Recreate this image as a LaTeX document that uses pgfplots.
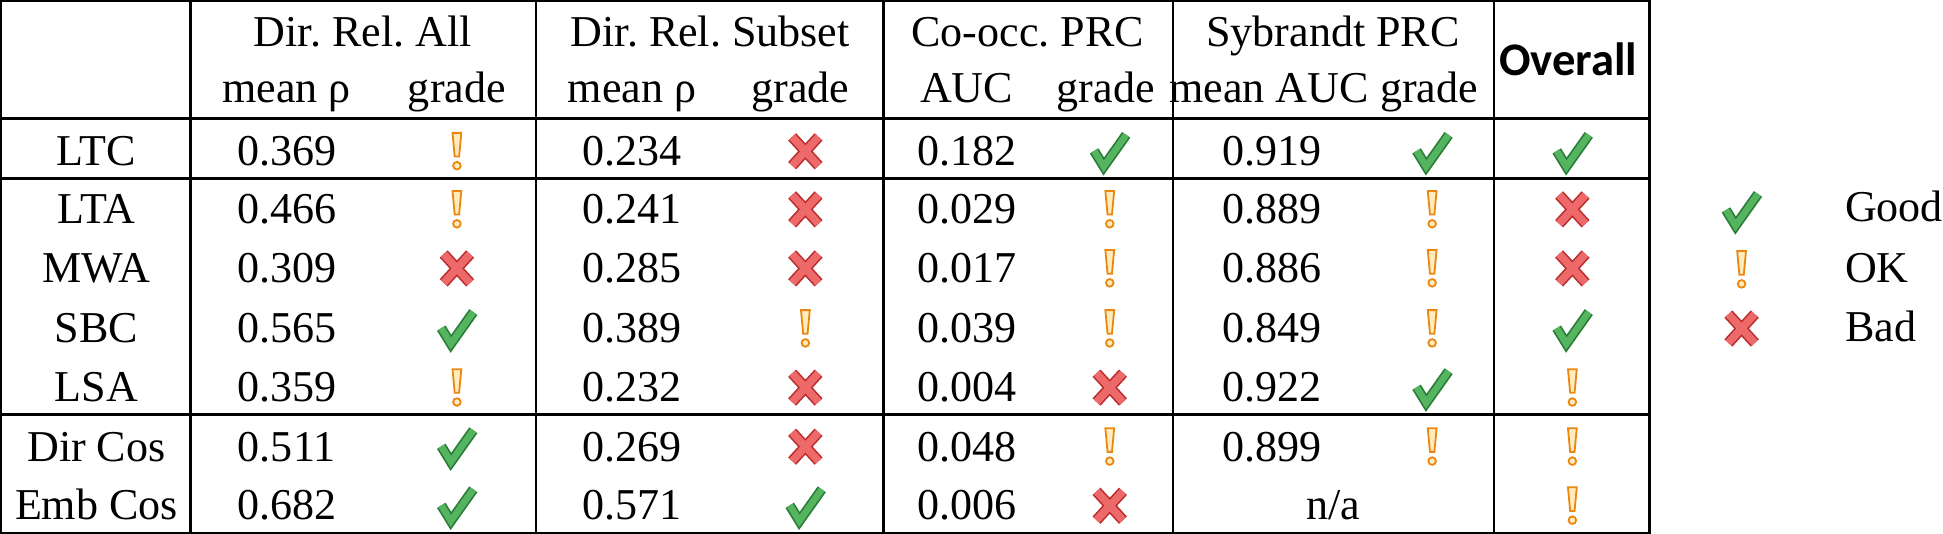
\documentclass[border=0pt]{standalone}
\usepackage{pgfplots}
\usepackage{pgfplotstable}
\pgfplotsset{compat=1.18}
\usepackage{fontspec}
\setmainfont{Liberation Serif}
\newfontfamily\calib{Carlito}
\frenchspacing

\definecolor{ckdark}{RGB}{40,125,55}
\definecolor{cklight}{RGB}{85,180,95}
\definecolor{xdark}{RGB}{185,45,45}
\definecolor{xlight}{RGB}{238,105,105}
\definecolor{exdark}{RGB}{235,135,15}
\definecolor{exlight}{RGB}{255,236,190}

\pgfdeclareplotmark{gcheck}{%
  \pgfsetmiterjoin
  \pgfpathmoveto{\pgfqpoint{-7.8pt}{0.2pt}}%
  \pgfpathlineto{\pgfqpoint{-3.0pt}{-7.6pt}}%
  \pgfpathlineto{\pgfqpoint{8.2pt}{8.2pt}}%
  \pgfsetlinewidth{5.0pt}\pgfsetstrokecolor{ckdark}\pgfusepathqstroke
  \pgfpathmoveto{\pgfqpoint{-7.8pt}{0.2pt}}%
  \pgfpathlineto{\pgfqpoint{-3.0pt}{-7.6pt}}%
  \pgfpathlineto{\pgfqpoint{8.2pt}{8.2pt}}%
  \pgfsetlinewidth{3.3pt}\pgfsetstrokecolor{cklight}\pgfusepathqstroke
}
\pgfdeclareplotmark{rcross}{%
  \pgfpathmoveto{\pgfqpoint{-6.6pt}{-7.2pt}}\pgfpathlineto{\pgfqpoint{6.6pt}{7.2pt}}%
  \pgfpathmoveto{\pgfqpoint{-6.6pt}{7.2pt}}\pgfpathlineto{\pgfqpoint{6.6pt}{-7.2pt}}%
  \pgfsetlinewidth{5.4pt}\pgfsetstrokecolor{xdark}\pgfusepathqstroke
  \pgfpathmoveto{\pgfqpoint{-6.6pt}{-7.2pt}}\pgfpathlineto{\pgfqpoint{6.6pt}{7.2pt}}%
  \pgfpathmoveto{\pgfqpoint{-6.6pt}{7.2pt}}\pgfpathlineto{\pgfqpoint{6.6pt}{-7.2pt}}%
  \pgfsetlinewidth{3.8pt}\pgfsetstrokecolor{xlight}\pgfusepathqstroke
}
\pgfdeclareplotmark{oexcl}{%
  \pgfsetlinewidth{0.9pt}\pgfsetstrokecolor{exdark}\pgfsetfillcolor{exlight}%
  \pgfpathmoveto{\pgfqpoint{-2.2pt}{9.2pt}}%
  \pgfpathlineto{\pgfqpoint{2.2pt}{9.2pt}}%
  \pgfpathlineto{\pgfqpoint{1.1pt}{-2.6pt}}%
  \pgfpathlineto{\pgfqpoint{-1.1pt}{-2.6pt}}%
  \pgfpathclose
  \pgfusepathqfillstroke
  \pgfpathcircle{\pgfqpoint{0pt}{-7.2pt}}{1.9pt}%
  \pgfusepathqfillstroke
}

\pgfplotstableread{
x y label
287 166 0.369
287 224 0.466
287 283 0.309
287 343 0.565
287 402 0.359
287 462 0.511
287 520 0.682
632 166 0.234
632 224 0.241
632 283 0.285
632 343 0.389
632 402 0.232
632 462 0.269
632 520 0.571
966 166 0.182
966 224 0.029
966 283 0.017
966 343 0.039
966 402 0.004
966 462 0.048
966 520 0.006
1271 166 0.919
1271 224 0.889
1271 283 0.886
1271 343 0.849
1271 402 0.922
1271 462 0.899
1332 520 n/a
}\values

\begin{document}
\begin{tikzpicture}[
  txt/.style={font=\fontsize{22}{26}\selectfont, anchor=base, inner sep=0pt}]
\begin{axis}[
  width=971.5pt, height=268pt, scale only axis,
  xmin=0, xmax=1943, ymin=0, ymax=536, y dir=reverse,
  hide axis, clip=false,
]
% grid lines
\draw[line width=1.1pt] (axis cs:2,2) rectangle (axis cs:1648,533);
\draw[line width=1.1pt] (axis cs:191,2) -- (axis cs:191,533);
\draw[line width=1.1pt] (axis cs:536,2) -- (axis cs:536,533);
\draw[line width=1.1pt] (axis cs:883,2) -- (axis cs:883,533);
\draw[line width=1.1pt] (axis cs:1172,2) -- (axis cs:1172,533);
\draw[line width=1.1pt] (axis cs:1493,2) -- (axis cs:1493,533);
\draw[line width=1.3pt] (axis cs:2,119) -- (axis cs:1648,119);
\draw[line width=1.3pt] (axis cs:2,179) -- (axis cs:1648,179);
\draw[line width=1.3pt] (axis cs:2,415) -- (axis cs:1648,415);
% headers
\node[txt] at (axis cs:363,47) {Dir. Rel. All};
\node[txt] at (axis cs:710,47) {Dir. Rel. Subset};
\node[txt] at (axis cs:1027,47) {Co-occ. PRC};
\node[txt] at (axis cs:1332,47) {Sybrandt PRC};
\node[txt, font=\calib\bfseries\fontsize{23.3}{26}\selectfont] at (axis cs:1567,76) {Overall};
\node[txt] at (axis cs:287,103) {mean ρ};
\node[txt] at (axis cs:457,103) {grade};
\node[txt] at (axis cs:632,103) {mean ρ};
\node[txt] at (axis cs:800,103) {grade};
\node[txt] at (axis cs:966,103) {AUC};
\node[txt] at (axis cs:1105,103) {grade};
\node[txt] at (axis cs:1268,103) {mean AUC};
\node[txt] at (axis cs:1428,103) {grade};
% row labels
\node[txt] at (axis cs:97,166) {LTC};
\node[txt] at (axis cs:97,224) {LTA};
\node[txt] at (axis cs:97,283) {MWA};
\node[txt] at (axis cs:97,343) {SBC};
\node[txt] at (axis cs:97,402) {LSA};
\node[txt] at (axis cs:97,462) {Dir Cos};
\node[txt] at (axis cs:97,520) {Emb Cos};
% values
\addplot[draw=none, mark=none, nodes near coords, point meta=explicit symbolic,
  every node near coord/.style={font=\fontsize{22}{26}\selectfont, anchor=base, inner sep=0pt}]
  table[x=x, y=y, meta=label] {\values};
% grades
\addplot[only marks, mark=gcheck] coordinates {
 (1109,152) (1431,152) (1571,152)
 (457,329) (1571,329)
 (1431,388)
 (457,447)
 (457,506) (805,506)
 (1740,211)};
\addplot[only marks, mark=oexcl] coordinates {
 (457,152)
 (457,210) (1109,210) (1431,210)
 (1109,269) (1431,269)
 (805,329) (1109,329) (1431,329)
 (457,388) (1571,388)
 (1109,447) (1431,447) (1571,447)
 (1571,506)
 (1740,270)};
\addplot[only marks, mark=rcross] coordinates {
 (805,152)
 (805,210) (1571,210)
 (457,269) (805,269) (1571,269)
 (805,388) (1109,388)
 (805,447)
 (1109,506)
 (1740,329)};
% legend text
\node[txt, anchor=base west] at (axis cs:1843,222) {Good};
\node[txt, anchor=base west] at (axis cs:1843,283) {OK};
\node[txt, anchor=base west] at (axis cs:1843,342) {Bad};
\end{axis}
\end{tikzpicture}
\end{document}
